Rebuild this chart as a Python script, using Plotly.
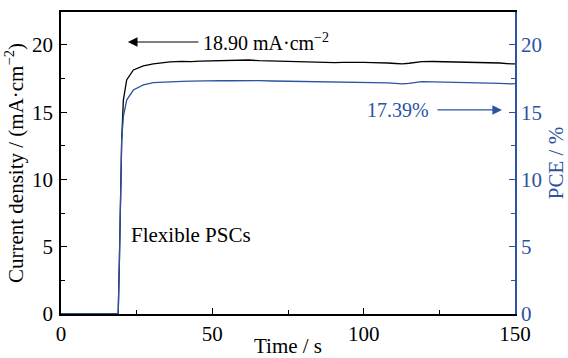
import plotly.graph_objects as go

# Data
time_s = [0, 18.9, 19.3, 19.7, 20.05, 20.6, 21.7, 23.9, 27.2, 30.5, 33, 36, 40, 43, 46, 50,
          52.7, 56, 59, 62, 65.5, 70, 73, 76.5, 80, 84, 87, 90.5, 93, 96, 100, 103, 106,
          108, 110.5, 112.7, 115, 117, 119.2, 123, 126, 130, 134.5, 138, 142, 145, 148.8, 150]
current = [0, 0, 4.0, 9.0, 12.9, 15.9, 17.4, 18.14, 18.44, 18.59, 18.66, 18.74, 18.78, 18.76, 18.8, 18.82,
           18.83, 18.86, 18.91, 18.88, 18.83, 18.8, 18.78, 18.74, 18.72, 18.69, 18.72, 18.69, 18.71, 18.72, 18.7, 18.68, 18.7,
           18.66, 18.62, 18.59, 18.64, 18.7, 18.76, 18.77, 18.76, 18.74, 18.74, 18.72, 18.7, 18.66, 18.59, 18.6]
pce = [0, 0, 4.0, 9.0, 12.9, 14.67, 15.9, 16.65, 17.03, 17.2, 17.24, 17.27, 17.3, 17.31, 17.33, 17.34,
       17.35, 17.34, 17.36, 17.37, 17.35, 17.32, 17.31, 17.28, 17.27, 17.25, 17.26, 17.23, 17.24, 17.25, 17.22, 17.2, 17.21,
       17.18, 17.14, 17.1, 17.15, 17.2, 17.27, 17.26, 17.25, 17.23, 17.2, 17.2, 17.18, 17.15, 17.1, 17.12]

x_ticks = [0, 50, 100, 150]
y_ticks = [0, 5, 10, 15, 20]

BLUE = "#2c52a0"
FONT = "Liberation Serif, Times New Roman, serif"

def f(size, color="black"):
    return dict(family=FONT, size=size, color=color)

fig = go.Figure()
fig.add_trace(go.Scatter(x=time_s, y=current, mode="lines",
                         line=dict(color="black", width=1.3), yaxis="y", showlegend=False))
fig.add_trace(go.Scatter(x=time_s, y=pce, mode="lines",
                         line=dict(color=BLUE, width=1.3), yaxis="y2", showlegend=False))

fig.update_layout(
    width=568, height=358,
    margin=dict(l=61, r=53, t=12, b=44),
    paper_bgcolor="white", plot_bgcolor="white",
    font=f(21),
    xaxis=dict(range=[0, 150], tickvals=x_ticks, ticks="inside", ticklen=6, tickwidth=1.2,
               tickcolor="black", showline=True, linecolor="black", linewidth=1.5, mirror=True,
               showgrid=False, zeroline=False, ticklabelstandoff=0, automargin=False,
               minor=dict(tickvals=[25, 75, 125], ticks="inside", ticklen=4, tickcolor="black"),
               title=dict(text="Time / s", standoff=0, font=f(21)),
               tickfont=f(21)),
    yaxis=dict(range=[0, 22.45], tickvals=y_ticks, ticks="inside", ticklen=6, tickwidth=1.2,
               tickcolor="black", showline=True, linecolor="black", linewidth=1.5,
               showgrid=False, zeroline=False, ticklabelstandoff=2, automargin=False,
               minor=dict(tickvals=[2.5, 7.5, 12.5, 17.5], ticks="inside", ticklen=4, tickcolor="black"),
               title=dict(text="Current density / (mA·cm<sup>−2</sup>)", standoff=3, font=f(21)),
               tickfont=f(21)),
    yaxis2=dict(range=[0, 22.45], tickvals=y_ticks, ticks="inside", ticklen=6, tickwidth=1.2,
                tickcolor=BLUE, showline=True, linecolor=BLUE, linewidth=1.5,
                overlaying="y", side="right", showgrid=False, zeroline=False, ticklabelstandoff=0,
                automargin=False,
                minor=dict(tickvals=[2.5, 7.5, 12.5, 17.5], ticks="inside", ticklen=4, tickcolor=BLUE),
                title=dict(text="PCE / %", standoff=14, font=f(21, BLUE)),
                tickfont=f(21, BLUE)),
)

# Arrow annotations
fig.add_annotation(x=22.1, y=20.22, ax=45.9, ay=20.22, xref="x", yref="y", axref="x", ayref="y",
                   text="", showarrow=True, arrowhead=2, arrowsize=1.6, arrowwidth=1.2, arrowcolor="black")
fig.add_annotation(x=67.8, y=20.22, xref="x", yref="y", text="18.90 mA·cm<sup>−2</sup>",
                   showarrow=False, font=f(20))
fig.add_annotation(x=145.7, y=15.17, ax=123.9, ay=15.17, xref="x", yref="y", axref="x", ayref="y",
                   text="", showarrow=True, arrowhead=2, arrowsize=1.6, arrowwidth=1.2, arrowcolor=BLUE)
fig.add_annotation(x=111.3, y=15.17, xref="x", yref="y", text="17.39%",
                   showarrow=False, font=f(20, BLUE))
fig.add_annotation(x=42.9, y=5.87, xref="x", yref="y", text="Flexible PSCs",
                   showarrow=False, font=f(21))

fig.write_html("out.html")
